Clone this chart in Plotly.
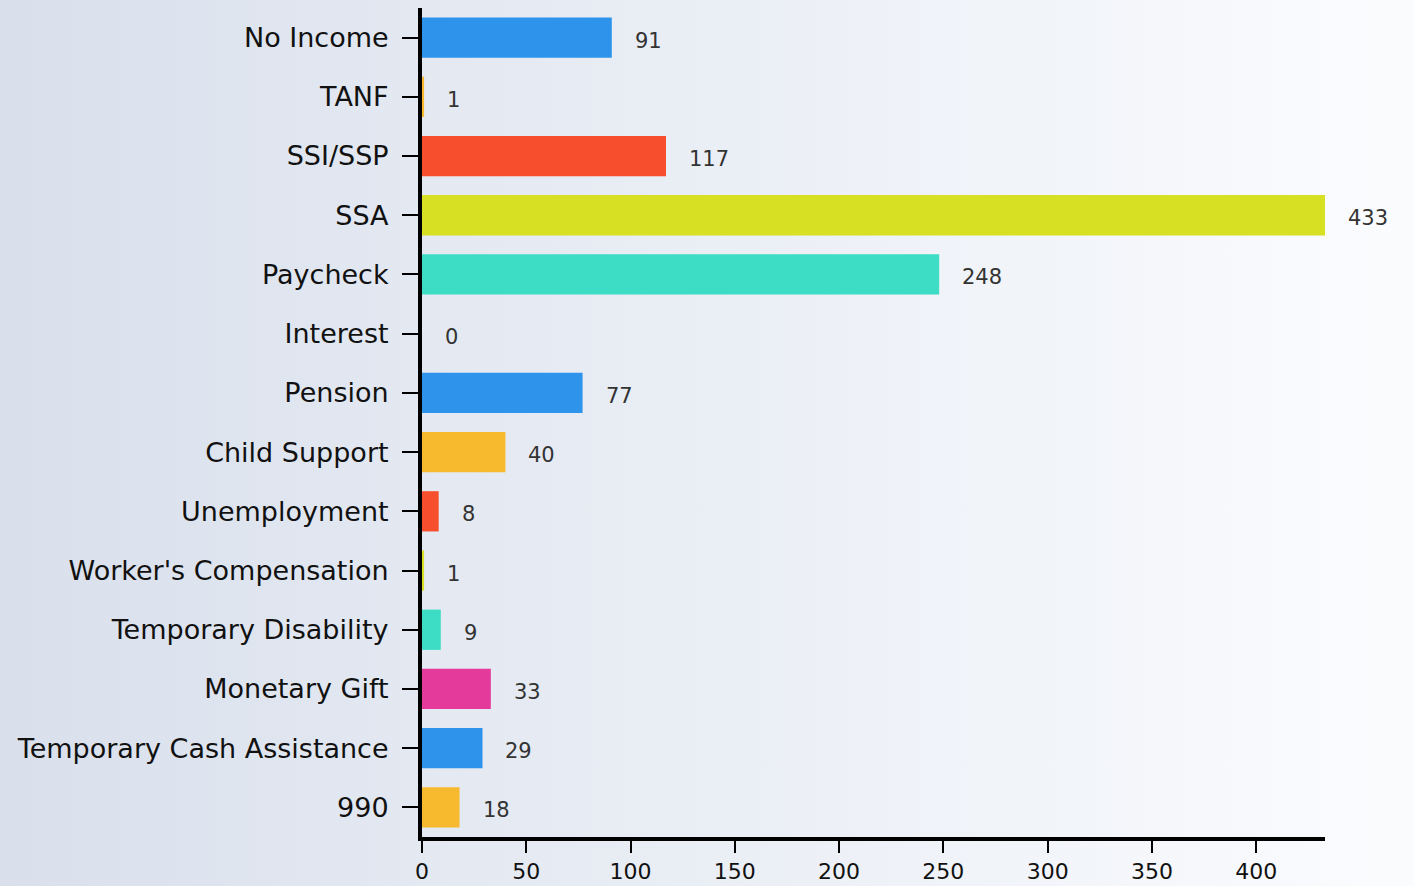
import base64
import plotly.graph_objects as go

categories = [
    "No Income", "TANF", "SSI/SSP", "SSA", "Paycheck", "Interest", "Pension",
    "Child Support", "Unemployment", "Worker's Compensation",
    "Temporary Disability", "Monetary Gift", "Temporary Cash Assistance", "990",
]
counts = [91, 1, 117, 433, 248, 0, 77, 40, 8, 1, 9, 33, 29, 18]
palette = ["#2e93ea", "#f7b92d", "#f74f2d", "#d7e022", "#3ddcc4", "#e33a9b"]
x_ticks = [0, 50, 100, 150, 200, 250, 300, 350, 400]

bar_colors = [palette[i % len(palette)] for i in range(len(categories))]

# left-to-right soft gradient behind everything
svg = (
    '<svg xmlns="http://www.w3.org/2000/svg" width="100" height="100" preserveAspectRatio="none">'
    '<defs><linearGradient id="g" x1="0" y1="0" x2="1" y2="0">'
    '<stop offset="0" stop-color="#d9e0ec"/><stop offset="1" stop-color="#fbfcfe"/>'
    '</linearGradient></defs><rect width="100" height="100" fill="url(#g)"/></svg>'
)
bg_src = "data:image/svg+xml;base64," + base64.b64encode(svg.encode()).decode()

fig = go.Figure(
    go.Bar(
        x=counts,
        y=categories,
        orientation="h",
        marker=dict(color=bar_colors, line=dict(width=0)),
        width=0.68,
        hoverinfo="x+y",
    )
)

# value labels; y given as category index so "990" is not read as a number
for i, val in enumerate(counts):
    fig.add_annotation(
        x=val, y=i, text=str(val), showarrow=False,
        xanchor="left", xshift=21, yshift=-3,
        font=dict(size=21, color="#333333"),
    )

fig.update_layout(
    width=1414,
    height=886,
    margin=dict(l=422, r=89, t=8, b=49),
    paper_bgcolor="#eef1f7",
    plot_bgcolor="rgba(0,0,0,0)",
    font=dict(family="DejaVu Sans, Open Sans, sans-serif", color="#111111"),
    showlegend=False,
    images=[dict(
        source=bg_src, xref="paper", yref="paper", x=-0.4673, y=1.0097,
        sizex=1.5659, sizey=1.0688, sizing="stretch", layer="below",
        xanchor="left", yanchor="top",
    )],
    xaxis=dict(
        range=[0, 433], tickvals=x_ticks, showgrid=False, zeroline=False,
        showline=True, linecolor="#000000", linewidth=4, automargin=False,
        ticks="outside", ticklen=12, tickwidth=2, tickcolor="#000000",
        ticklabelstandoff=0,
        tickfont=dict(size=22, color="#111111"),
    ),
    yaxis=dict(
        type="category", range=[13.5, -0.5], showgrid=False, zeroline=False,
        showline=True, linecolor="#000000", linewidth=4, automargin=False,
        ticks="outside", ticklen=16, tickwidth=2, tickcolor="#000000",
        ticklabelstandoff=8,
        tickfont=dict(size=27, color="#111111"),
    ),
)

# drop the default 8px body margin so the figure fills the window
fig.write_html(
    "out.html",
    config={"displayModeBar": False},
    post_script="document.body.style.margin='0';",
)
